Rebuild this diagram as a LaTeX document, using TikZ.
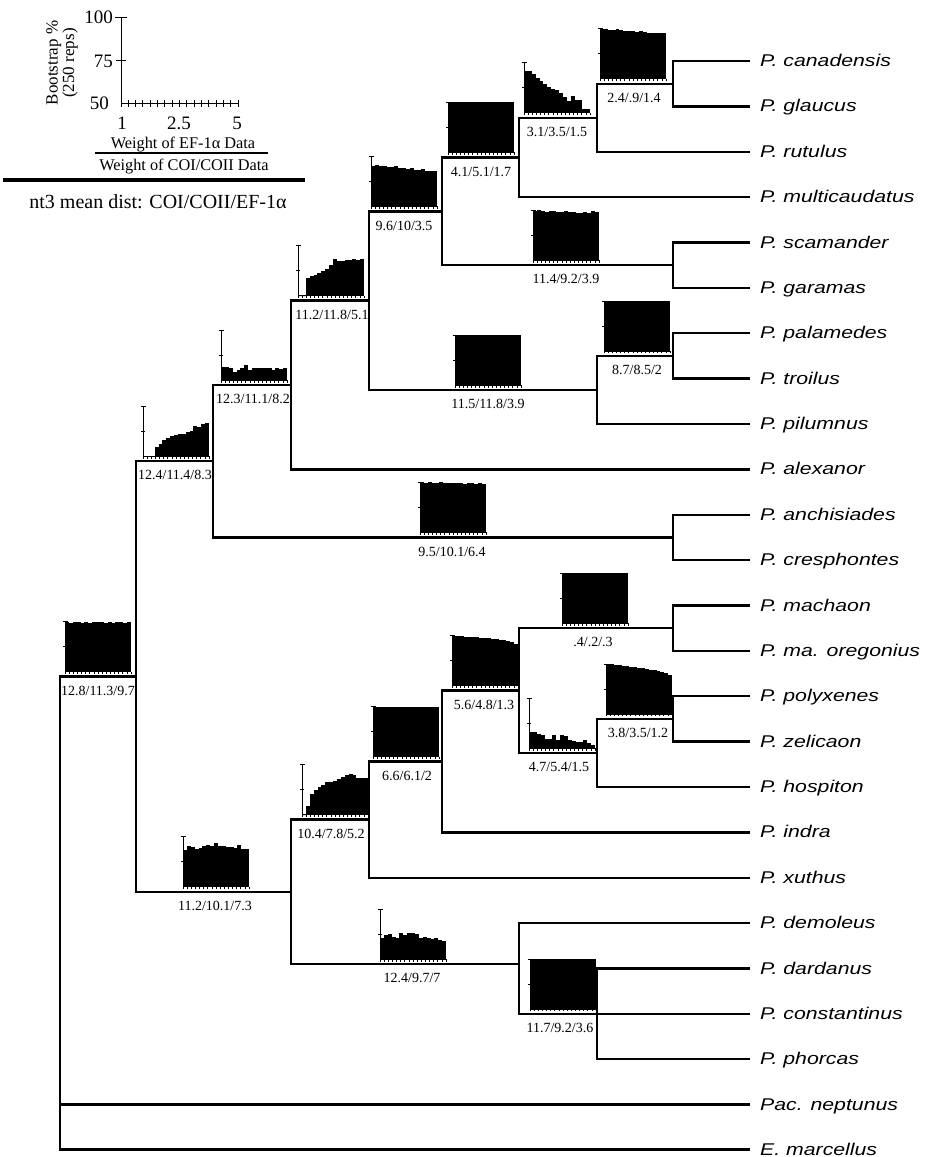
\documentclass[tikz,border=0pt]{standalone}
\usepackage{fontspec}
\usepackage{graphicx}
\setmainfont{Liberation Serif}
\newfontfamily\helv{Liberation Sans}

\newcommand{\taxname}[1]{\scalebox{1.25}[1]{\helv\itshape #1}}

% bootstrap histogram: left x, branch y, 17 values (50..100)
\newcommand{\bootchart}[3]{%
  \foreach \v [count=\i from 0] in {#3} {
    \pgfmathsetmacro{\bh}{max(\v-50,0)}
    \fill (#1+\i*3.88,#2-5) rectangle ++(3.95,-\bh);
  }
  \draw[chartaxis] (#1,#2-55) -- (#1,#2-5) -- (#1+66,#2-5);
  \draw[chartaxis] (#1-2.5,#2-55) -- (#1+2.5,#2-55)
                   (#1-2,#2-30) -- (#1+2,#2-30);
  \foreach \k in {0,...,16}
    \draw[chartaxis] (#1+\k*4.125,#2-5) -- ++(0,2.5);
}

\begin{document}
\begin{tikzpicture}[
	x=1pt, y=-1pt,
	branch/.style={line width=2.4pt, line join=miter},
	chartaxis/.style={line width=0.7pt},
	legendaxis/.style={line width=1pt},
	taxon/.style={anchor=west, inner xsep=10pt, inner ysep=0pt, text height=11pt, text depth=0pt,
		font=\fontsize{17}{18}\selectfont},
	brlabel/.style={inner sep=0pt, text height=9.5pt, text depth=0pt,
		font=\fontsize{14}{15}\selectfont},
	legnum/.style={inner sep=0pt, text height=12pt, text depth=0pt,
		font=\fontsize{19}{20}\selectfont},
	legtext/.style={inner sep=0pt, text height=11pt, text depth=0pt,
		font=\fontsize{16.3}{17}\selectfont}
	]
	\useasboundingbox (0,0) rectangle (924,1157);
	
	%-----------------------
	% Column positions of the tree
	%-----------------------
	\def\xI{60}      % root
	\def\xII{136}
	\def\xIII{213}
	\def\xIV{291}
	\def\xV{369}
	\def\xVI{442}
	\def\xVII{519}
	\def\xVIII{597}
	\def\xIX{673}
	\def\xtip{750}   % end of terminal branches
	
	%-----------------------
	% Legend
	%-----------------------
	\draw[legendaxis] (121,17) -- (121,103) -- (238,103);
	\draw[legendaxis] (115,17) -- (127,17) (116,60) -- (126,60);
	\foreach \k in {0,...,16}
		\draw[legendaxis] (121+\k*7.3125,99.5) -- ++(0,7);
	\node[legnum, anchor=east] (t100) at (113,17) {100};
	\node[legnum, anchor=east] (t75) at (113,61) {75};
	\node[legnum, anchor=east] (t50) at (109,103) {50};
	\node[legnum] (w1) at (122,123) {1};
	\node[legnum] (w25) at (179,123) {2.5};
	\node[legnum] (w5) at (237,123) {5};
	\node[rotate=90, align=center, inner sep=0pt, font=\fontsize{17}{15}\selectfont] (bsaxis) at (62,63) {Bootstrap \%\\(250 reps)};
	
	\node[legtext] (efdata) at (183,143) {Weight of EF-1α Data};
	\draw[line width=1.2pt] (95,153) -- (268,153);
	\node[legtext] (coidata) at (184,165) {Weight of COI/COII Data};
	\draw[line width=4pt] (3,180) -- (305,180);
	\node[inner sep=0pt, text height=13pt, text depth=0pt, font=\fontsize{20}{21}\selectfont] (ntdist) at (158,202) {nt3 mean dist: COI/COII/EF-1α};
	
	%-----------------------
	% Terminal taxa
	%-----------------------
	\node[taxon] (canadensis)   at (\xtip,61)     {\taxname{P. canadensis}};
	\node[taxon] (glaucus)      at (\xtip,106.4)  {\taxname{P. glaucus}};
	\node[taxon] (rutulus)      at (\xtip,151.75) {\taxname{P. rutulus}};
	\node[taxon] (multicaud)    at (\xtip,197.1)  {\taxname{P. multicaudatus}};
	\node[taxon] (scamander)    at (\xtip,242.5)  {\taxname{P. scamander}};
	\node[taxon] (garamas)      at (\xtip,287.9)  {\taxname{P. garamas}};
	\node[taxon] (palamedes)    at (\xtip,333.25) {\taxname{P. palamedes}};
	\node[taxon] (troilus)      at (\xtip,378.6)  {\taxname{P. troilus}};
	\node[taxon] (pilumnus)     at (\xtip,424)    {\taxname{P. pilumnus}};
	\node[taxon] (alexanor)     at (\xtip,469.4)  {\taxname{P. alexanor}};
	\node[taxon] (anchisiades)  at (\xtip,514.75) {\taxname{P. anchisiades}};
	\node[taxon] (cresphontes)  at (\xtip,560.1)  {\taxname{P. cresphontes}};
	\node[taxon] (machaon)      at (\xtip,605.5)  {\taxname{P. machaon}};
	\node[taxon] (oregonius)    at (\xtip,650.9)  {\taxname{P. ma. oregonius}};
	\node[taxon] (polyxenes)    at (\xtip,696.25) {\taxname{P. polyxenes}};
	\node[taxon] (zelicaon)     at (\xtip,741.6)  {\taxname{P. zelicaon}};
	\node[taxon] (hospiton)     at (\xtip,787)    {\taxname{P. hospiton}};
	\node[taxon] (indra)        at (\xtip,832.4)  {\taxname{P. indra}};
	\node[taxon] (xuthus)       at (\xtip,877.75) {\taxname{P. xuthus}};
	\node[taxon] (demoleus)     at (\xtip,923.1)  {\taxname{P. demoleus}};
	\node[taxon] (dardanus)     at (\xtip,968.5)  {\taxname{P. dardanus}};
	\node[taxon] (constantinus) at (\xtip,1013.9) {\taxname{P. constantinus}};
	\node[taxon] (phorcas)      at (\xtip,1059.25){\taxname{P. phorcas}};
	\node[taxon] (neptunus)     at (\xtip,1104.6) {\taxname{Pac. neptunus}};
	\node[taxon] (marcellus)    at (\xtip,1149.5) {\taxname{E. marcellus}};
	
	%-----------------------
	% Internal nodes
	%-----------------------
	\coordinate (nA) at (\xIX,83.7);
	\coordinate (nB) at (\xVIII,117.7);
	\coordinate (nC) at (\xVII,157.4);
	\coordinate (nD) at (\xIX,265.2);
	\coordinate (nE) at (\xVI,211.3);
	\coordinate (nF) at (\xIX,355.9);
	\coordinate (nG) at (\xVIII,390);
	\coordinate (nH) at (\xV,300.6);
	\coordinate (nI) at (\xIV,385);
	\coordinate (nJ) at (\xIX,537.4);
	\coordinate (nK) at (\xIII,461.2);
	\coordinate (nL) at (\xIX,628.2);
	\coordinate (nM) at (\xIX,718.9);
	\coordinate (nN) at (\xVIII,753);
	\coordinate (nO) at (\xVII,690.6);
	\coordinate (nP) at (\xVI,761.5);
	\coordinate (nQ) at (\xV,819.6);
	\coordinate (nR) at (\xVIII,1013.9);
	\coordinate (nS) at (\xVII,964);
	\coordinate (nT) at (\xIV,891.8);
	\coordinate (nU) at (\xII,676.5);
	\coordinate (nRoot) at (\xI,1104.6);
	
	%-----------------------
	% Branches
	%-----------------------
	\draw[branch] (nA) |- (canadensis.west);
	\draw[branch] (nA) |- (glaucus.west);
	\draw[branch] (nB) |- (nA);
	\draw[branch] (nB) |- (rutulus.west);
	\draw[branch] (nC) |- (nB);
	\draw[branch] (nC) |- (multicaud.west);
	\draw[branch] (nD) |- (scamander.west);
	\draw[branch] (nD) |- (garamas.west);
	\draw[branch] (nE) |- (nC);
	\draw[branch] (nE) |- (nD);
	\draw[branch] (nF) |- (palamedes.west);
	\draw[branch] (nF) |- (troilus.west);
	\draw[branch] (nG) |- (nF);
	\draw[branch] (nG) |- (pilumnus.west);
	\draw[branch] (nH) |- (nE);
	\draw[branch] (nH) |- (nG);
	\draw[branch] (nI) |- (nH);
	\draw[branch] (nI) |- (alexanor.west);
	\draw[branch] (nJ) |- (anchisiades.west);
	\draw[branch] (nJ) |- (cresphontes.west);
	\draw[branch] (nK) |- (nI);
	\draw[branch] (nK) |- (nJ);
	
	\draw[branch] (nL) |- (machaon.west);
	\draw[branch] (nL) |- (oregonius.west);
	\draw[branch] (nM) |- (polyxenes.west);
	\draw[branch] (nM) |- (zelicaon.west);
	\draw[branch] (nN) |- (nM);
	\draw[branch] (nN) |- (hospiton.west);
	\draw[branch] (nO) |- (nL);
	\draw[branch] (nO) |- (nN);
	\draw[branch] (nP) |- (nO);
	\draw[branch] (nP) |- (indra.west);
	\draw[branch] (nQ) |- (nP);
	\draw[branch] (nQ) |- (xuthus.west);
	\draw[branch] (nR) |- (dardanus.west);
	\draw[branch] (nR) |- (constantinus.west);
	\draw[branch] (nR) |- (phorcas.west);
	\draw[branch] (nS) |- (demoleus.west);
	\draw[branch] (nS) |- (nR);
	\draw[branch] (nT) |- (nQ);
	\draw[branch] (nT) |- (nS);
	\draw[branch] (nU) |- (nK);
	\draw[branch] (nU) |- (nT);
	\draw[branch] (nRoot) |- (nU);
	\draw[branch] (nRoot) -- (neptunus.west);
	\draw[branch] (nRoot) |- (marcellus.west);
	
	%-----------------------
	% Bootstrap histograms
	%-----------------------
	\bootchart{600}{83.7}{100,100,99,99,100,99,98,98,98,97,98,97,96,96,96,96,96}
	\bootchart{524}{117.7}{92,92,89,85,82,79,76,74,73,70,66,62,67,63,63,54,54}
	\bootchart{448}{157.4}{100,100,100,100,100,100,100,100,100,100,100,100,100,100,100,100,100}
	\bootchart{371}{211.3}{90,91,90,90,89,89,90,88,88,87,88,86,86,87,85,85,85}
	\bootchart{533}{265.2}{99,100,99,98,99,99,98,98,99,98,98,97,97,98,97,99,98}
	\bootchart{604}{355.9}{100,100,100,100,100,100,100,100,100,100,100,100,100,100,100,100,100}
	\bootchart{455}{390}{100,100,100,100,100,100,100,100,100,100,100,100,100,100,100,100,100}
	\bootchart{298}{300.6}{45,48,68,70,71,73,75,77,81,87,85,85,86,86,87,86,87}
	\bootchart{221}{385}{63,63,62,58,60,62,65,60,62,62,62,62,62,60,62,61,62}
	\bootchart{143}{461.2}{45,45,48,59,62,66,68,70,71,72,72,74,75,80,79,82,83}
	\bootchart{420}{537.4}{100,99,100,99,99,100,99,99,99,99,99,98,99,99,98,99,98}
	\bootchart{65}{676.5}{100,99,100,100,99,100,99,100,100,100,99,100,99,100,100,99,100}
	\bootchart{562}{628.2}{100,100,100,100,100,100,100,100,100,100,100,100,100,100,100,100,100}
	\bootchart{452}{690.6}{100,100,100,99,99,99,99,98,98,98,97,97,96,96,95,94,92}
	\bootchart{606}{718.9}{100,100,99,99,98,98,97,97,96,96,95,94,94,93,92,91,89}
	\bootchart{529}{753}{66,66,64,63,59,59,63,58,63,62,58,57,56,56,58,55,53}
	\bootchart{373}{761.5}{100,100,100,100,100,100,100,100,100,100,100,100,100,100,100,100,100}
	\bootchart{302}{819.6}{45,59,71,75,78,80,83,83,84,86,88,90,91,90,87,87,87}
	\bootchart{183}{891.8}{87,91,90,88,89,91,92,91,94,91,91,90,90,89,92,88,88}
	\bootchart{380}{964}{71,74,75,72,71,76,74,76,76,75,71,72,71,70,71,69,68}
	\bootchart{530}{1013.9}{100,100,100,100,100,100,100,100,100,100,100,100,100,100,100,100,100}
	
	%-----------------------
	% Branch labels (nt3 mean distances)
	%-----------------------
	\node[brlabel] (lA) at (634,97.7)   {2.4/.9/1.4};
	\node[brlabel] (lB) at (557,131.7)  {3.1/3.5/1.5};
	\node[brlabel] (lC) at (481,171.4)  {4.1/5.1/1.7};
	\node[brlabel] (lE) at (404,225.3)  {9.6/10/3.5};
	\node[brlabel] (lD) at (566,279.2)  {11.4/9.2/3.9};
	\node[brlabel] (lF) at (637,369.9)  {8.7/8.5/2};
	\node[brlabel] (lG) at (488,404)    {11.5/11.8/3.9};
	\node[brlabel] (lH) at (332,314.6)  {11.2/11.8/5.1};
	\node[brlabel] (lI) at (253,399)    {12.3/11.1/8.2};
	\node[brlabel] (lK) at (175,475.2)  {12.4/11.4/8.3};
	\node[brlabel] (lJ) at (452,551.4)  {9.5/10.1/6.4};
	\node[brlabel] (lU) at (98,690.5)   {12.8/11.3/9.7};
	\node[brlabel] (lL) at (593,642.2)  {.4/.2/.3};
	\node[brlabel] (lO) at (484,704.6)  {5.6/4.8/1.3};
	\node[brlabel] (lM) at (638,732.9)  {3.8/3.5/1.2};
	\node[brlabel] (lN) at (559,767)    {4.7/5.4/1.5};
	\node[brlabel] (lP) at (407,775.5)  {6.6/6.1/2};
	\node[brlabel] (lQ) at (331,833.6)  {10.4/7.8/5.2};
	\node[brlabel] (lT) at (215,905.8)  {11.2/10.1/7.3};
	\node[brlabel] (lS) at (412,978)    {12.4/9.7/7};
	\node[brlabel] (lR) at (560,1027.9) {11.7/9.2/3.6};
	
\end{tikzpicture}
\end{document}
